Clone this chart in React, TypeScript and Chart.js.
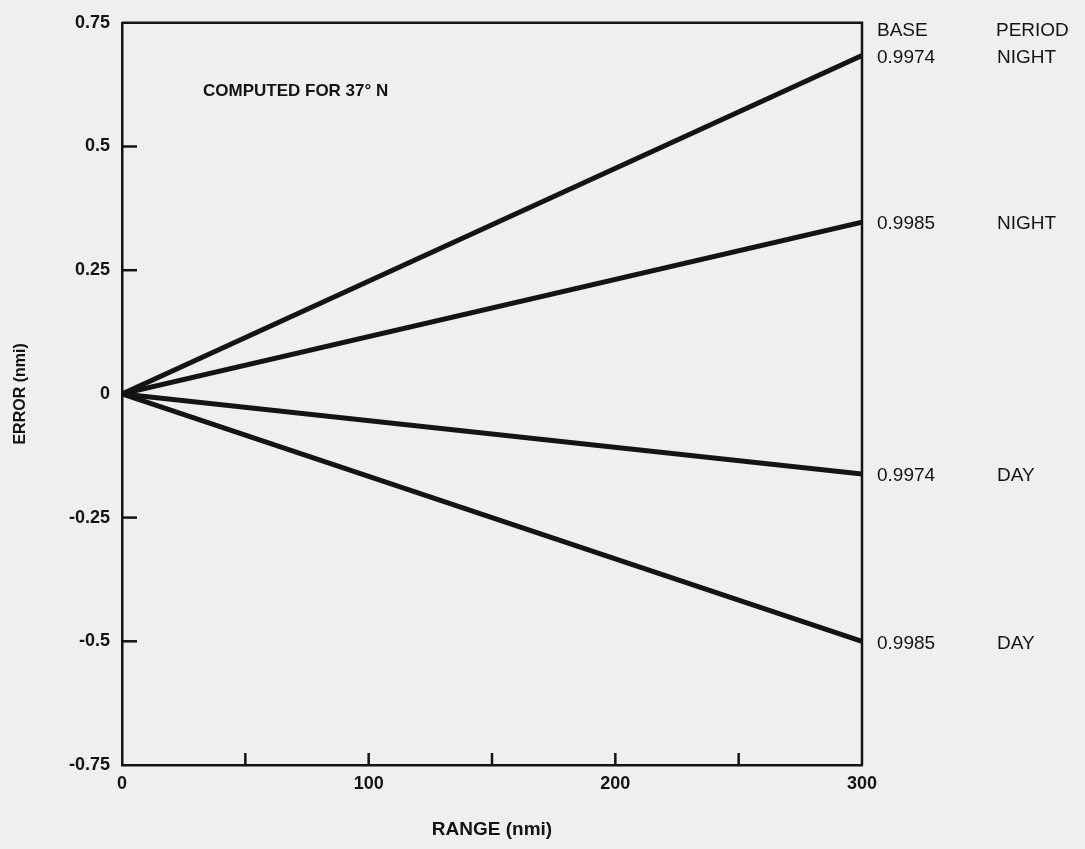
import React, { useEffect, useRef } from "react";
import { Chart, registerables } from "chart.js";

Chart.register(...registerables);

// ---- data ----
const rangeValues = [0, 300];
const nightBase9974 = [0, 0.684];
const nightBase9985 = [0, 0.347];
const dayBase9974 = [0, -0.162];
const dayBase9985 = [0, -0.5];
const seriesValues = [nightBase9974, nightBase9985, dayBase9974, dayBase9985];
const baseLabels = ["0.9974", "0.9985", "0.9974", "0.9985"];
const periodLabels = ["NIGHT", "NIGHT", "DAY", "DAY"];
const yTickLabels: Record<string, string> = {
  "0.75": "0.75",
  "0.5": "0.5",
  "0.25": "0.25",
  "0": "0",
  "-0.25": "-0.25",
  "-0.5": "-0.5",
  "-0.75": "-0.75",
};
const xLabelledTicks = [0, 100, 200, 300];
const xInnerTicks = [50, 100, 150, 200, 250];
const yInnerTicks = [0.5, 0.25, 0, -0.25, -0.5];
const noteText = "COMPUTED FOR 37° N";
const headerBase = "BASE";
const headerPeriod = "PERIOD";

const FONT = "'Liberation Sans', Arial, Helvetica, sans-serif";
const INK = "#141414";

const decorPlugin = {
  id: "decor",
  afterDraw(chart: any) {
    const ctx = chart.ctx as CanvasRenderingContext2D;
    const xs = chart.scales.x;
    const ys = chart.scales.y;
    const { left, right, top, bottom } = chart.chartArea;
    ctx.save();
    ctx.strokeStyle = INK;
    ctx.lineWidth = 2.5;
    ctx.lineCap = "butt";
    // top and right frame
    ctx.beginPath();
    ctx.moveTo(left, top);
    ctx.lineTo(right, top);
    ctx.lineTo(right, bottom);
    ctx.stroke();
    // inner ticks on y
    for (const v of yInnerTicks) {
      const py = ys.getPixelForValue(v);
      ctx.beginPath();
      ctx.moveTo(left, py);
      ctx.lineTo(left + 15, py);
      ctx.stroke();
    }
    // inner ticks on x
    for (const v of xInnerTicks) {
      const px = xs.getPixelForValue(v);
      ctx.beginPath();
      ctx.moveTo(px, bottom);
      ctx.lineTo(px, bottom - 12);
      ctx.stroke();
    }
    // right labels
    ctx.fillStyle = INK;
    ctx.textBaseline = "middle";
    ctx.textAlign = "left";
    ctx.font = `19px ${FONT}`;
    ctx.fillText(headerBase, right + 15, top + 8);
    ctx.fillText(headerPeriod, right + 134, top + 8);
    seriesValues.forEach((vals, i) => {
      const py = ys.getPixelForValue(vals[vals.length - 1]) + 2;
      ctx.fillText(baseLabels[i], right + 15, py);
      ctx.fillText(periodLabels[i], right + 135, py);
    });
    // note
    ctx.font = `bold 17px ${FONT}`;
    ctx.fillText(noteText, left + 81, top + 69);
    ctx.restore();
  },
};

export default function App() {
  const ref = useRef<HTMLCanvasElement | null>(null);
  useEffect(() => {
    document.body.style.margin = "0";
    document.body.style.background = "#efefef";
    const canvas = ref.current;
    if (!canvas) return;
    const chart = new Chart(canvas, {
      type: "line",
      data: {
        datasets: seriesValues.map((vals, i) => ({
          label: `${baseLabels[i]} ${periodLabels[i]}`,
          data: vals.map((v, j) => ({ x: rangeValues[j], y: v })),
          borderColor: INK,
          borderWidth: 5,
          pointRadius: 0,
          tension: 0,
          fill: false,
        })),
      },
      options: {
        animation: false,
        responsive: false,
        devicePixelRatio: 1,
        layout: { padding: { left: 0, top: 17, right: 1085 - 862, bottom: 0 } },
        plugins: {
          legend: { display: false },
          tooltip: { enabled: false },
        },
        scales: {
          x: {
            type: "linear",
            min: 0,
            max: 300,
            afterFit: (s: any) => {
              s.height = 849 - 765;
            },
            afterBuildTicks: (s: any) => {
              s.ticks = xLabelledTicks.map((v) => ({ value: v }));
            },
            ticks: {
              color: INK,
              padding: 8,
              font: { family: FONT, size: 18, weight: "bold" },
              maxRotation: 0,
              autoSkip: false,
            },
            grid: { display: true, drawOnChartArea: false, drawTicks: false },
            border: { display: true, color: INK, width: 2.5 },
            title: {
              display: true,
              text: "RANGE (nmi)",
              color: INK,
              font: { family: FONT, size: 19, weight: "bold" },
              padding: { top: 0, bottom: 8 },
            },
          },
          y: {
            type: "linear",
            min: -0.75,
            max: 0.75,
            afterFit: (s: any) => {
              s.width = 122;
            },
            ticks: {
              stepSize: 0.25,
              color: INK,
              padding: 12,
              font: { family: FONT, size: 18, weight: "bold" },
              callback: (v: any) => yTickLabels[String(Number(v))] ?? "",
            },
            grid: { display: true, drawOnChartArea: false, drawTicks: false },
            border: { display: true, color: INK, width: 2.5 },
            title: {
              display: true,
              text: "ERROR (nmi)",
              color: INK,
              font: { family: FONT, size: 16, weight: "bold" },
              padding: { top: 11, bottom: 0 },
            },
          },
        },
      },
      plugins: [decorPlugin],
    });
    return () => chart.destroy();
  }, []);
  return (
    <div style={{ position: "fixed", left: 0, top: 0, width: 1085, height: 849, background: "#efefef" }}>
      <canvas ref={ref} width={1085} height={849} style={{ width: 1085, height: 849, display: "block" }} />
    </div>
  );
}
